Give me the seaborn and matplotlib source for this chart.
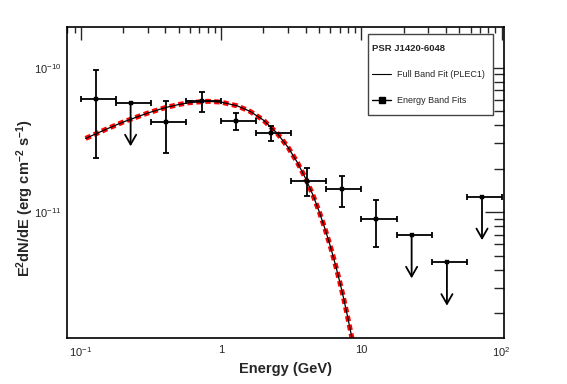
import numpy as np
import matplotlib
matplotlib.use("Agg")
import matplotlib.pyplot as plt
import seaborn as sns
from matplotlib.lines import Line2D
from matplotlib.patches import Rectangle
from matplotlib.ticker import LogLocator, NullFormatter

# energy band fits (GeV, erg cm^-2 s^-1)
energy = [0.127, 0.226, 0.403, 0.724, 1.28, 2.28, 4.07, 7.24, 12.8, 22.8, 40.7, 72.4]
e_lo = [0.1, 0.178, 0.316, 0.562, 1.0, 1.78, 3.16, 5.62, 10.0, 17.8, 31.6, 56.2]
e_hi = [0.178, 0.316, 0.562, 1.0, 1.78, 3.16, 5.62, 10.0, 17.8, 31.6, 56.2, 100.0]
flux = [6.04e-11, 5.72e-11, 4.2e-11, 5.88e-11, 4.29e-11, 3.53e-11,
        1.65e-11, 1.44e-11, 8.9e-12, 6.96e-12, 4.5e-12, 1.28e-11]
flux_hi = [9.64e-11, np.nan, 5.85e-11, 6.75e-11, 4.88e-11, 3.94e-11,
           2.01e-11, 1.79e-11, 1.21e-11, np.nan, np.nan, np.nan]
flux_lo = [2.38e-11, np.nan, 2.56e-11, 4.93e-11, 3.68e-11, 3.09e-11,
           1.30e-11, 1.09e-11, 5.72e-12, np.nan, np.nan, np.nan]
upper_limit = [False, True, False, False, False, False,
               False, False, False, True, True, True]

# full band fit (PLEC1)
curve_energy = [0.108, 0.15, 0.2, 0.3, 0.4, 0.5, 0.6, 0.8, 1.0, 1.3, 1.6, 2.0,
                2.5, 3.0, 3.5, 4.0, 4.5, 5.0, 5.5, 6.0, 6.5, 7.0, 7.5, 8.0, 8.6]
curve_flux = [3.24e-11, 3.74e-11, 4.21e-11, 4.86e-11, 5.30e-11, 5.57e-11,
              5.74e-11, 5.86e-11, 5.78e-11, 5.45e-11, 5.00e-11, 4.34e-11,
              3.53e-11, 2.81e-11, 2.20e-11, 1.71e-11, 1.32e-11, 1.007e-11,
              7.66e-12, 5.81e-12, 4.38e-12, 3.30e-12, 2.48e-12, 1.85e-12,
              1.31e-12]

x_ticks = [0.1, 1, 10, 100]
x_ticklabels = ["$10^{-1}$", "1", "10", "$10^{2}$"]
y_ticks = [1e-11, 1e-10]
y_ticklabels = ["$10^{-11}$", "$10^{-10}$"]

sns.set_style("white")
plt.rcParams['font.family'] = ['Liberation Sans', 'DejaVu Sans']
plt.rcParams['mathtext.default'] = 'regular'

fig = plt.figure(figsize=(5.67, 3.84), dpi=100)
ax = fig.add_axes([0.118, 0.120, 0.771, 0.810])
ax.set_xscale("log")
ax.set_yscale("log")

# fit curve: red dashed under a thin black line
sns.lineplot(x=curve_energy, y=curve_flux, ax=ax, color="red", lw=3.6,
             linestyle=(0, (1.1, 0.7)), sort=False, zorder=2)
sns.lineplot(x=curve_energy, y=curve_flux, ax=ax, color="black", lw=0.9,
             sort=False, zorder=3)

e = np.array(energy)
f = np.array(flux)
xerr = [e - np.array(e_lo), np.array(e_hi) - e]
yerr = [f - np.array(flux_lo), np.array(flux_hi) - f]
yerr = [np.nan_to_num(v) for v in yerr]
ul = np.array(upper_limit)

ax.errorbar(e, f, xerr=xerr, fmt="none", ecolor="black", elinewidth=1.3,
            capsize=2.5, capthick=1.3, zorder=4)
ax.errorbar(e[~ul], f[~ul], yerr=[yerr[0][~ul], yerr[1][~ul]], fmt="none",
            ecolor="black", elinewidth=1.3, capsize=2.5, capthick=1.3, zorder=4)
sns.scatterplot(x=e, y=f, marker="s", s=10, color="black", edgecolor="black",
                ax=ax, zorder=5)
for xi, yi in zip(e[ul], f[ul]):
    ax.annotate("", xy=(xi, yi * 0.5), xytext=(xi, yi),
                arrowprops=dict(arrowstyle="->,head_width=0.4,head_length=0.7",
                                color="black", lw=1.3, shrinkA=0, shrinkB=0),
                zorder=5)

ax.set_xlim(0.0794, 104)
ax.set_ylim(1.345e-12, 1.92e-10)

ax.set_xticks(x_ticks)
ax.set_xticklabels(x_ticklabels)
ax.set_yticks(y_ticks)
ax.set_yticklabels(y_ticklabels)
ax.xaxis.set_minor_locator(LogLocator(base=10, subs=np.arange(2, 10)))
ax.yaxis.set_minor_locator(LogLocator(base=10, subs=np.arange(2, 10)))
ax.xaxis.set_minor_formatter(NullFormatter())
ax.yaxis.set_minor_formatter(NullFormatter())
ax.tick_params(axis="x", which="major", direction="in", length=9, width=1,
               top=True, labelsize=8, pad=5)
ax.tick_params(axis="x", which="minor", direction="in", length=4.5, width=1,
               top=True)
ax.tick_params(axis="y", which="major", direction="in", length=14, width=1,
               right=True, labelsize=8, pad=4)
ax.tick_params(axis="y", which="minor", direction="in", length=7, width=1,
               right=True)
for sp in ax.spines.values():
    sp.set_linewidth(1.2)
    sp.set_color("black")

ax.set_xlabel("Energy (GeV)", fontsize=10.5, fontweight="bold")
ax.set_ylabel("E$^{2}$dN/dE (erg cm$^{-2}$ s$^{-1}$)", fontsize=10.5,
              fontweight="bold")
ax.xaxis.set_label_coords(0.50, -0.078)
ax.yaxis.set_label_coords(-0.07, 0.45)

# legend box drawn by hand, legend itself has no frame
ax.add_patch(Rectangle((0.689, 0.717), 0.286, 0.26, transform=ax.transAxes,
                       facecolor="white", edgecolor="#444444", lw=1,
                       zorder=6))
handles = [Line2D([], [], color="black", lw=0.8),
           Line2D([], [], color="black", lw=1, marker="s", markersize=4)]
leg = ax.legend(handles, ["Full Band Fit (PLEC1)", "Energy Band Fits"],
                title="PSR J1420-6048", loc="upper left",
                bbox_to_anchor=(0.697, 0.945), fontsize=6.5,
                title_fontproperties={"weight": "bold", "size": 6.8},
                frameon=False, handlelength=2.2, labelspacing=1.9,
                borderpad=0, handletextpad=0.65, borderaxespad=0)
leg._legend_box.align = "left"
leg.set_zorder(7)

plt.savefig("out.png", dpi=100)
